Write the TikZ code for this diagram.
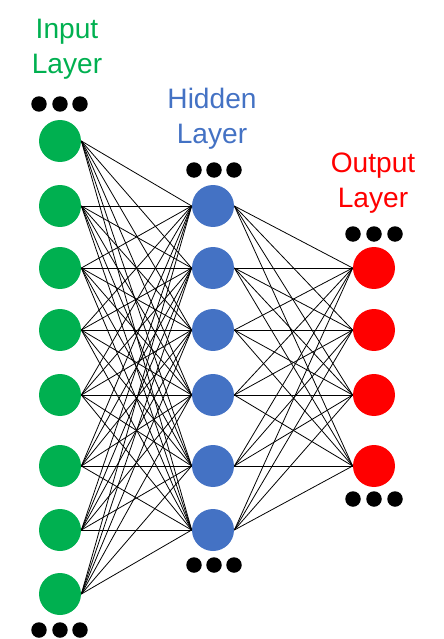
\documentclass[tikz,border=0pt]{standalone}
\usepackage{fontspec}
\setmainfont{Liberation Sans}
\usetikzlibrary{positioning}
\definecolor{inputgreen}{HTML}{00B050}
\definecolor{hiddenblue}{HTML}{4472C4}
\definecolor{outputred}{HTML}{FF0000}

\begin{document}
\begin{tikzpicture}[x=0.02cm, y=-0.02cm,
    neuron/.style={circle, minimum size=0.84cm, inner sep=0pt},
    dot/.style={circle, fill=black, minimum size=0.31cm, inner sep=0pt},
    link/.style={line width=0.45pt, black},
    layertitle/.style={align=center, font=\fontsize{16}{20}\selectfont}]
    \useasboundingbox (0,0) rectangle (443,639);

    % Input layer
    \foreach \y [count=\i] in {141,206,268,330,395,466,530,594} {
        \node[neuron, fill=inputgreen] (in\i) at (60,\y) {};
    }
    \foreach \x [count=\k] in {39,60,80} {
        \node[dot] (intop\k) at (\x,104) {};
        \node[dot] (inbot\k) at (\x,630) {};
    }
    \node[layertitle, text=inputgreen] (intitle) at (67,49) {Input\\Layer};

    % Hidden layer
    \foreach \y [count=\i] in {206,268,330,395,466,530} {
        \node[neuron, fill=hiddenblue] (hid\i) at (213,\y) {};
    }
    \foreach \x [count=\k] in {194,214,234} {
        \node[dot] (hidtop\k) at (\x,170) {};
        \node[dot] (hidbot\k) at (\x,565) {};
    }
    \node[layertitle, text=hiddenblue] (hidtitle) at (212,119) {Hidden\\Layer};

    % Output layer
    \foreach \y [count=\i] in {268,330,395,466} {
        \node[neuron, fill=outputred] (out\i) at (374,\y) {};
    }
    \foreach \x [count=\k] in {353,374,395} {
        \node[dot] (outtop\k) at (\x,234) {};
        \node[dot] (outbot\k) at (\x,499) {};
    }
    \node[layertitle, text=outputred] (outtitle) at (373,183) {Output\\Layer};

    % Connections
    \foreach \i in {1,...,8} {
        \foreach \j in {1,...,6} {
            \draw[link] (in\i.east) -- (hid\j.west);
        }
    }
    \foreach \i in {1,...,6} {
        \foreach \j in {1,...,4} {
            \draw[link] (hid\i.east) -- (out\j.west);
        }
    }
\end{tikzpicture}
\end{document}
